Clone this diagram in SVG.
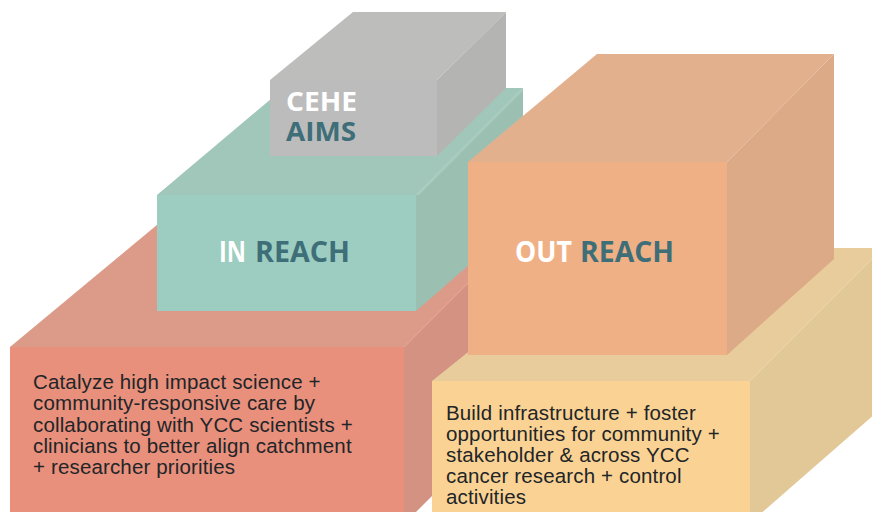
<svg xmlns="http://www.w3.org/2000/svg" width="872" height="512" viewBox="0 0 872 512">
  <style>
    .head { font-family: "Open Sans", "Noto Sans", "Liberation Sans", sans-serif; font-weight: 700; font-size: 28px; }
    .small { font-size: 27px; }
    .w { fill: #ffffff; }
    .t { fill: #3e6e78; }
    .body { font-family: "Liberation Sans", Arial, sans-serif; font-size: 20.5px; letter-spacing: 0.15px; fill: #222528; }
    .edge { fill: none; stroke-width: 1.2; }
  </style>
  <rect x="0" y="0" width="872" height="512" fill="#ffffff"/>

  <g id="node-inreach-base">
    <polygon points="10,347 187,200 551,200 404,347" fill="#dc9a89"/>
    <polygon points="404,347 551,200 551,377 404,524" fill="#d49282"/>
    <line class="edge" x1="404" y1="347" x2="551" y2="200" stroke="#e3a393"/>
    <rect x="10" y="347" width="394" height="180" fill="#e8907c"/>
    <text class="body">
      <tspan x="33" y="389">Catalyze high impact science +</tspan>
      <tspan x="33" y="410">community-responsive care by</tspan>
      <tspan x="33" y="432">collaborating with YCC scientists +</tspan>
      <tspan x="33" y="453">clinicians to better align catchment</tspan>
      <tspan x="33" y="474">+ researcher priorities</tspan>
    </text>
  </g>

  <g id="node-inreach">
    <polygon points="157,195 284,88 523,88 416,195" fill="#a0c7b9"/>
    <polygon points="416,195 523,88 523,218 416,311" fill="#9bc0b2"/>
    <line class="edge" x1="418" y1="195" x2="523" y2="90" stroke="#a9cfc2"/>
    <rect x="157" y="195" width="259" height="116" fill="#9dcdc0"/>
    <text class="head w" x="219" y="262" textLength="27" lengthAdjust="spacingAndGlyphs">IN</text>
    <text class="head t" x="255" y="262" textLength="95" lengthAdjust="spacingAndGlyphs">REACH</text>
  </g>

  <g id="node-cehe-aims">
    <polygon points="270,80 353,12 506,12 437,80" fill="#bdbdbb"/>
    <polygon points="437,80 506,12 506,88 437,156" fill="#b4b4b3"/>
    <rect x="270" y="80" width="167" height="76" fill="#bcbcbc"/>
    <text class="head small w" x="286" y="111" textLength="71" lengthAdjust="spacingAndGlyphs">CEHE</text>
    <text class="head small t" x="286" y="141" textLength="70" lengthAdjust="spacingAndGlyphs">AIMS</text>
  </g>

  <g id="node-outreach-base">
    <polygon points="432,381 598,248 883,248 750,381" fill="#e8cc9c"/>
    <polygon points="750,381 883,248 883,407 750,523" fill="#e2c797"/>
    <rect x="432" y="381" width="318" height="140" fill="#fad394"/>
    <text class="body">
      <tspan x="446" y="420">Build infrastructure + foster</tspan>
      <tspan x="446" y="441">opportunities for community +</tspan>
      <tspan x="446" y="462">stakeholder &amp; across YCC</tspan>
      <tspan x="446" y="483">cancer research + control</tspan>
      <tspan x="446" y="504">activities</tspan>
    </text>
  </g>

  <g id="node-outreach">
    <polygon points="468,162 597,54 834,54 727,162" fill="#e3b08e"/>
    <polygon points="727,162 834,54 834,259 727,355" fill="#dcaa86"/>
    <rect x="468" y="162" width="259" height="193" fill="#f0b085"/>
    <text class="head w" x="515" y="262" textLength="57" lengthAdjust="spacingAndGlyphs">OUT</text>
    <text class="head t" x="580" y="262" textLength="94" lengthAdjust="spacingAndGlyphs">REACH</text>
  </g>

  <g id="connectors"/>
</svg>
